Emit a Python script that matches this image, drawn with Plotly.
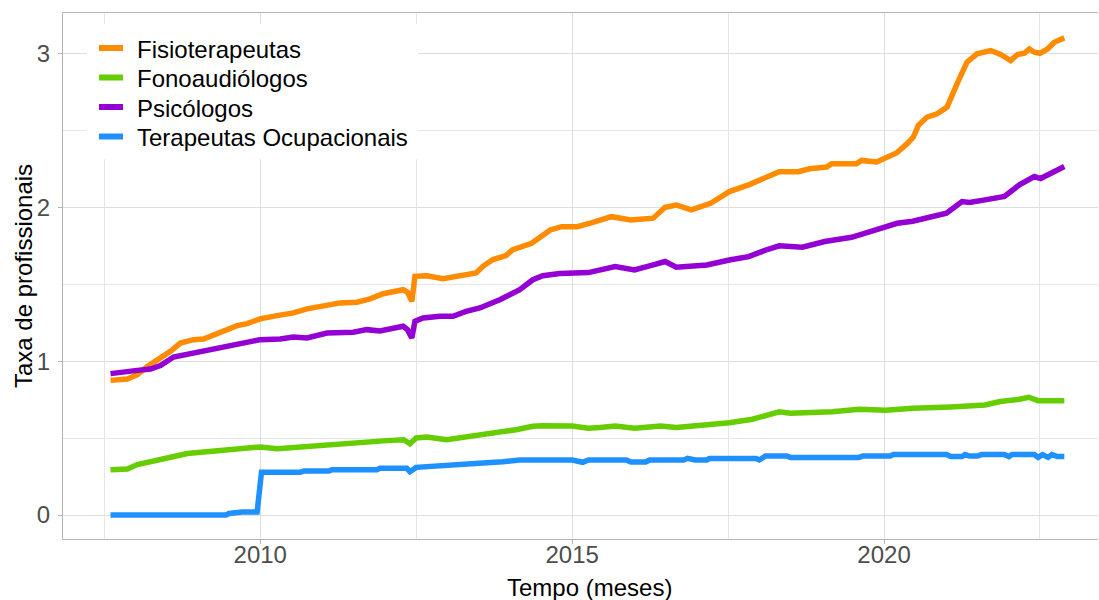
import plotly.graph_objects as go

# ---- data (decimal years, rate values) ----
fisio_t = [2007.60, 2007.87, 2008.03, 2008.19, 2008.40, 2008.56, 2008.72, 2008.93, 2009.09, 2009.36,
           2009.63, 2009.79, 2010.00, 2010.27, 2010.53, 2010.75, 2011.07, 2011.28, 2011.55, 2011.76,
           2011.97, 2012.29, 2012.36, 2012.43, 2012.48, 2012.67, 2012.93, 2013.20, 2013.46, 2013.57,
           2013.73, 2013.94, 2014.04, 2014.35, 2014.65, 2014.83, 2015.08, 2015.32, 2015.63, 2015.94,
           2016.30, 2016.49, 2016.67, 2016.91, 2017.22, 2017.52, 2017.83, 2018.14, 2018.32, 2018.62,
           2018.81, 2019.08, 2019.16, 2019.56, 2019.64, 2019.88, 2020.04, 2020.20, 2020.37, 2020.47,
           2020.55, 2020.69, 2020.85, 2021.01, 2021.17, 2021.33, 2021.49, 2021.71, 2021.87, 2022.03,
           2022.14, 2022.25, 2022.33, 2022.41, 2022.50, 2022.62, 2022.73, 2022.89]
fisio_v = [0.876, 0.885, 0.913, 0.967, 1.022, 1.065, 1.119, 1.141, 1.145, 1.184,
           1.232, 1.245, 1.276, 1.297, 1.315, 1.341, 1.362, 1.380, 1.384, 1.406,
           1.440, 1.466, 1.449, 1.390, 1.553, 1.557, 1.538, 1.557, 1.575, 1.618,
           1.662, 1.688, 1.725, 1.768, 1.855, 1.876, 1.876, 1.902, 1.941, 1.920,
           1.931, 2.002, 2.017, 1.985, 2.028, 2.104, 2.148, 2.202, 2.234, 2.234,
           2.253, 2.264, 2.286, 2.286, 2.307, 2.297, 2.329, 2.355, 2.416, 2.459,
           2.535, 2.589, 2.610, 2.654, 2.805, 2.946, 3.000, 3.022, 2.996, 2.957,
           2.996, 3.004, 3.032, 3.011, 3.004, 3.032, 3.076, 3.104]

fono_t = [2007.60, 2007.87, 2008.03, 2008.24, 2008.51, 2008.83, 2009.20, 2009.57, 2010.00, 2010.27,
          2010.75, 2011.17, 2011.60, 2012.03, 2012.30, 2012.40, 2012.50, 2012.67, 2012.99, 2013.20,
          2013.52, 2013.78, 2014.10, 2014.37, 2014.53, 2015.00, 2015.26, 2015.45, 2015.69, 2016.00,
          2016.42, 2016.67, 2017.16, 2017.52, 2017.89, 2018.14, 2018.32, 2018.50, 2019.17, 2019.60,
          2019.97, 2020.03, 2020.46, 2021.00, 2021.07, 2021.62, 2021.86, 2022.17, 2022.32, 2022.47,
          2022.66, 2022.89]
fono_v = [0.295, 0.300, 0.328, 0.343, 0.371, 0.400, 0.414, 0.430, 0.443, 0.432,
          0.447, 0.464, 0.473, 0.484, 0.490, 0.464, 0.501, 0.508, 0.490, 0.501,
          0.516, 0.538, 0.555, 0.577, 0.581, 0.579, 0.564, 0.570, 0.579, 0.564,
          0.579, 0.570, 0.583, 0.600, 0.623, 0.650, 0.672, 0.662, 0.672, 0.688,
          0.688, 0.681, 0.694, 0.709, 0.703, 0.716, 0.738, 0.753, 0.766, 0.744,
          0.748, 0.744]

psico_t = [2007.60, 2007.81, 2008.03, 2008.24, 2008.40, 2008.61, 2008.93, 2009.20, 2009.57, 2010.00,
           2010.32, 2010.53, 2010.75, 2011.07, 2011.49, 2011.71, 2011.92, 2012.13, 2012.29, 2012.36,
           2012.43, 2012.48, 2012.61, 2012.88, 2013.09, 2013.30, 2013.52, 2013.84, 2014.16, 2014.37,
           2014.53, 2014.80, 2015.00, 2015.26, 2015.69, 2016.00, 2016.30, 2016.49, 2016.67, 2017.16,
           2017.52, 2017.83, 2018.14, 2018.32, 2018.69, 2019.05, 2019.48, 2019.85, 2020.21, 2020.46,
           2020.83, 2021.00, 2021.25, 2021.37, 2021.62, 2021.93, 2022.17, 2022.41, 2022.51, 2022.72,
           2022.89]
psico_v = [0.920, 0.933, 0.941, 0.950, 0.972, 1.028, 1.054, 1.080, 1.115, 1.141,
           1.145, 1.158, 1.152, 1.184, 1.189, 1.206, 1.197, 1.217, 1.228, 1.206,
           1.152, 1.260, 1.282, 1.293, 1.293, 1.325, 1.347, 1.401, 1.466, 1.531,
           1.557, 1.571, 1.573, 1.577, 1.616, 1.594, 1.627, 1.649, 1.612, 1.627,
           1.659, 1.681, 1.729, 1.751, 1.742, 1.779, 1.807, 1.855, 1.898, 1.911,
           1.946, 1.963, 2.039, 2.033, 2.050, 2.072, 2.148, 2.202, 2.189, 2.234,
           2.267]

to_t = [2007.60, 2009.45, 2009.50, 2009.71, 2009.95, 2010.02, 2010.64, 2010.70, 2011.10, 2011.15,
        2011.87, 2011.92, 2012.35, 2012.40, 2012.50, 2012.88, 2013.20, 2013.57, 2013.89, 2014.16,
        2015.00, 2015.17, 2015.26, 2015.87, 2015.94, 2016.18, 2016.24, 2016.79, 2016.85, 2016.97,
        2017.16, 2017.20, 2017.95, 2018.00, 2018.10, 2018.44, 2018.50, 2019.60, 2019.66, 2020.10,
        2020.15, 2021.00, 2021.07, 2021.25, 2021.30, 2021.37, 2021.50, 2021.56, 2021.93, 2022.00,
        2022.05, 2022.41, 2022.47, 2022.54, 2022.63, 2022.69, 2022.78, 2022.89]
to_v = [0.000, 0.000, 0.010, 0.020, 0.020, 0.278, 0.278, 0.286, 0.286, 0.295,
        0.295, 0.304, 0.304, 0.282, 0.310, 0.317, 0.328, 0.338, 0.347, 0.358,
        0.358, 0.343, 0.358, 0.358, 0.345, 0.345, 0.358, 0.358, 0.369, 0.358,
        0.358, 0.367, 0.367, 0.358, 0.384, 0.384, 0.375, 0.375, 0.384, 0.384,
        0.393, 0.393, 0.380, 0.380, 0.393, 0.384, 0.384, 0.393, 0.393, 0.380,
        0.393, 0.393, 0.375, 0.393, 0.375, 0.393, 0.380, 0.380]

series_names = ["Fisioterapeutas", "Fonoaudiólogos", "Psicólogos", "Terapeutas Ocupacionais"]
series_colors = ["#FF8C00", "#66CD00", "#9400D3", "#1E90FF"]
x_ticks = [2010, 2015, 2020]
y_ticks = [0, 1, 2, 3]
x_title = "Tempo (meses)"
y_title = "Taxa de profissionais"

FONT = "Arial, 'Liberation Sans', sans-serif"

# ---- layout geometry (pixels) ----
W, H = 1099, 600
ML, MR, MT, MB = 63, 1, 13, 61
PW, PH = W - ML - MR, H - MT - MB


def px(xpix):
    return (xpix - ML) / PW


def py(ypix):
    return (H - MB - ypix) / PH


fig = go.Figure()
for name, color, t, v in zip(series_names, series_colors,
                             [fisio_t, fono_t, psico_t, to_t],
                             [fisio_v, fono_v, psico_v, to_v]):
    fig.add_trace(go.Scatter(x=t, y=v, mode="lines", name=name, showlegend=False,
                             line=dict(color=color, width=5.5)))

axis_common = dict(
    showline=True, linecolor="#b3b3b3", linewidth=1,
    ticks="outside", ticklen=4, tickcolor="#b3b3b3",
    gridcolor="#dedede", gridwidth=1, zeroline=False, automargin=False,
    tickfont=dict(family=FONT, size=24, color="#4d4d4d"),
)

# manual legend (white box, line keys, labels)
shapes = [dict(type="rect", xref="paper", yref="paper",
               x0=px(87), x1=px(418), y0=py(159), y1=py(24),
               fillcolor="white", line=dict(width=0), layer="above")]
annotations = []
legend_y = [48, 77.5, 107, 136.5]
for name, color, ly in zip(series_names, series_colors, legend_y):
    shapes.append(dict(type="line", xref="paper", yref="paper",
                       x0=px(99), x1=px(123), y0=py(ly), y1=py(ly),
                       line=dict(color=color, width=6), layer="above"))
    annotations.append(dict(text=name, xref="paper", yref="paper",
                            x=px(135), y=py(ly + 1), xanchor="left", yanchor="middle",
                            showarrow=False,
                            font=dict(family=FONT, size=24, color="black")))

# axis titles
annotations.append(dict(text=x_title, xref="paper", yref="paper",
                        x=px(589), y=py(587), xanchor="center", yanchor="middle",
                        showarrow=False, font=dict(family=FONT, size=24, color="black")))
annotations.append(dict(text=y_title, xref="paper", yref="paper",
                        x=px(23), y=py(276), xanchor="center", yanchor="middle",
                        textangle=-90, showarrow=False,
                        font=dict(family=FONT, size=24, color="black")))

fig.update_layout(
    width=W, height=H,
    margin=dict(l=ML, r=MR, t=MT, b=MB),
    plot_bgcolor="white", paper_bgcolor="white",
    font=dict(family=FONT, color="black"),
    showlegend=False,
    hovermode=False,
    shapes=shapes,
    annotations=annotations,
    xaxis=dict(axis_common, range=[2006.838, 2023.43], tickvals=x_ticks,
               mirror=True, ticklabelstandoff=-10,
               minor=dict(dtick=2.5, tick0=2010, showgrid=True, gridcolor="#e6e6e6", gridwidth=1, ticks="")),
    yaxis=dict(axis_common, range=[-0.156, 3.266], tickvals=y_ticks,
               ticklabelstandoff=3,
               minor=dict(dtick=0.5, tick0=0, showgrid=True, gridcolor="#e6e6e6", gridwidth=1, ticks="")),
)

fig.write_html("out.html",
               config={"displayModeBar": False, "staticPlot": True},
               post_script="document.body.style.margin='0';document.body.style.overflow='hidden';")
